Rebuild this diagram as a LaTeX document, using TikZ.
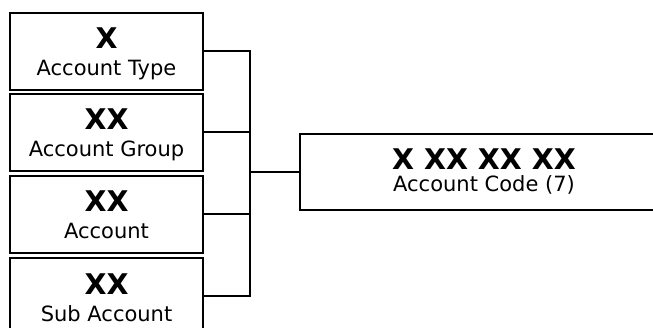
\documentclass[tikz,border=0pt]{standalone}
\usepackage{fontspec}
\setmainfont{DejaVu Sans}
\begin{document}
\begin{tikzpicture}[x=1pt,y=1pt,
  box/.style={draw=black,line width=2pt,minimum width=193pt,minimum height=77pt,inner sep=0pt,outer sep=0pt},
  codebox/.style={draw=black,line width=2pt,minimum width=368pt,minimum height=76pt,inner sep=0pt,outer sep=0pt},
  big/.style={font=\fontsize{28.5}{28.5}\bfseries,inner sep=0pt,anchor=base},
  small/.style={font=\fontsize{21}{21}\selectfont,inner sep=0pt,anchor=base},
  conn/.style={line width=2pt,black}]
\useasboundingbox (0,0) rectangle (653,-328);
\clip (0,0) rectangle (653,-328);
\node[box] (b1) at (106.5,-51.5) {};
\node[box] (b2) at (106.5,-132.5) {};
\node[box] (b3) at (106.5,-214.5) {};
\node[box] (b4) at (106.5,-296.5) {};
\node[codebox] (code) at (484,-172) {};
\coordinate (bus) at (250,-172);
% texts
\node[big] (t1) at ([yshift=2.5pt]b1.center) {X};
\node[small] (s1) at ([yshift=-24.5pt]b1.center) {Account Type};
\node[big] (t2) at ([yshift=2.5pt]b2.center) {XX};
\node[small] (s2) at ([yshift=-24.5pt]b2.center) {Account Group};
\node[big] (t3) at ([yshift=2.5pt]b3.center) {XX};
\node[small] (s3) at ([yshift=-24.5pt]b3.center) {Account};
\node[big] (t4) at ([yshift=1.5pt]b4.center) {XX};
\node[small] (s4) at ([yshift=-25.5pt]b4.center) {Sub Account};
\node[big] (tc) at ([yshift=2pt]code.center) {X XX XX XX};
\node[small] (sc) at ([yshift=-20pt]code.center) {Account Code (7)};
% connectors
\draw[conn] (b1.east) -- (b1.east -| bus) -- (b4.east -| bus) -- (b4.east);
\draw[conn] (b2.east) -- (b2.east -| bus);
\draw[conn] (b3.east) -- (b3.east -| bus);
\draw[conn] (bus) -- (code.west);
\end{tikzpicture}
\end{document}
